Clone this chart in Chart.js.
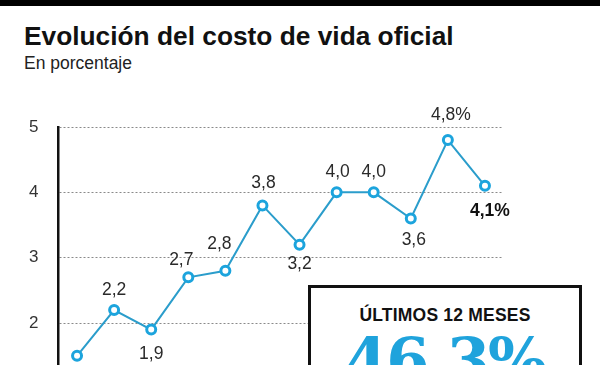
<!DOCTYPE html>
<html>
<head>
<meta charset="utf-8">
<script src="https://cdn.jsdelivr.net/npm/chart.js@4"></script>
<style>
  html, body { margin: 0; padding: 0; background: #fff; }
  body { width: 600px; height: 365px; overflow: hidden; position: relative; font-family: "Liberation Sans", Arial, sans-serif; }
  #topbar { position: absolute; left: 0; top: 0; width: 600px; height: 6px; background: #000; }
  #title { position: absolute; left: 24px; top: 21px; font-size: 26.3px; font-weight: bold; color: #111; white-space: nowrap; }
  #subtitle { position: absolute; left: 24px; top: 53px; font-size: 17.5px; color: #222; white-space: nowrap; }
  #myCanvas { position: absolute; left: 0; top: 0; }
  #box { position: absolute; left: 308px; top: 285px; width: 268px; height: 120px; border: 3px solid #111; background: #fff; }
  #boxHead { position: absolute; left: 0; width: 100%; top: 17px; text-align: center; font-size: 17.5px; font-weight: bold; color: #111; letter-spacing: 0.2px; }
  #boxValue { position: absolute; left: 0; width: 100%; top: 36px; text-align: center; font-family: "DejaVu Serif", serif; font-size: 62px; font-weight: bold; color: #1fa3dc; letter-spacing: -2px; }
</style>
</head>
<body>
<div id="topbar"></div>
<div id="title">Evolución del costo de vida oficial</div>
<div id="subtitle">En porcentaje</div>
<canvas id="myCanvas" width="600" height="484"></canvas>
<div id="box">
  <div id="boxHead">ÚLTIMOS 12 MESES</div>
  <div id="boxValue">46,3%</div>
</div>
<script>
// meses (sin rotulo visible en el grafico)
const months = ['1', '2', '3', '4', '5', '6', '7', '8', '9', '10', '11', '12'];
const values = [1.5, 2.2, 1.9, 2.7, 2.8, 3.8, 3.2, 4.0, 4.0, 3.6, 4.8, 4.1];
const valueLabels = ['1,5', '2,2', '1,9', '2,7', '2,8', '3,8', '3,2', '4,0', '4,0', '3,6', '4,8%', '4,1%'];
const yTicks = [0, 1, 2, 3, 4, 5];

// desplazamiento de cada rotulo respecto de su punto (px)
const labelShiftX = [0, 0, 0, -7, -6, 1, 0, 1, 0, 3, 3, 5];
const labelShiftY = [24, -20, 25, -17, -27, -22, 20, -20, -20, 22, -25, 25];

const pointLabels = {
    id: 'pointLabels',
    afterDatasetsDraw(chart) {
        const ctx = chart.ctx;
        const meta = chart.getDatasetMeta(0);
        ctx.save();
        ctx.textAlign = 'center';
        ctx.textBaseline = 'middle';
        meta.data.forEach(function (pt, i) {
            const last = i === meta.data.length - 1;
            ctx.font = (last ? 'bold ' : '') + '17.5px "Liberation Sans", Arial, sans-serif';
            ctx.fillStyle = last ? '#111' : '#2a2a2a';
            ctx.fillText(valueLabels[i], pt.x + labelShiftX[i], pt.y + labelShiftY[i]);
        });
        ctx.restore();
    }
};

var c = document.getElementById("myCanvas");
var ctx = c.getContext("2d");
var myChart = new Chart(ctx, {
    type: 'line',
    data: {
        labels: months,
        datasets: [{
            data: values,
            borderColor: '#2b9dcb',
            borderWidth: 2,
            pointBackgroundColor: '#fff',
            pointBorderColor: '#1ca4dd',
            pointBorderWidth: 3,
            pointRadius: 4.5,
            tension: 0
        }]
    },
    options: {
        responsive: false,
        animation: false,
        layout: { padding: { top: 127, right: 96.5, bottom: 6, left: 0 } },
        plugins: {
            legend: { display: false },
            tooltip: { enabled: false }
        },
        scales: {
            x: {
                offset: true,
                ticks: { display: false },
                grid: { display: false, drawTicks: false },
                border: { display: false }
            },
            y: {
                min: 0,
                max: 5,
                afterBuildTicks: function (scale) {
                    scale.ticks = yTicks.map(v => ({ value: v }));
                },
                afterFit: function (scale) {
                    scale.width = 58.5;
                },
                ticks: {
                    padding: 20,
                    color: '#333',
                    font: { family: '"Liberation Sans", Arial, sans-serif', size: 17 }
                },
                grid: {
                    color: '#8a8a8a',
                    lineWidth: 1,
                    drawTicks: false
                },
                border: {
                    display: true,
                    color: '#111',
                    width: 2.5,
                    dash: [2, 2]
                }
            }
        }
    },
    plugins: [pointLabels]
});
</script>
</body>
</html>
